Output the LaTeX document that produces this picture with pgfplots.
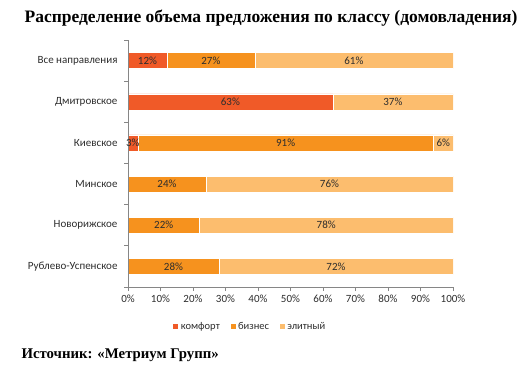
\documentclass[border=0pt]{standalone}
\usepackage{pgfplots}
\pgfplotsset{compat=1.18}
\usepackage{fontspec}
\setmainfont{Liberation Serif}
\newfontfamily\calfont{Carlito}
\definecolor{komf}{RGB}{240,90,40}
\definecolor{biz}{RGB}{246,146,30}
\definecolor{elit}{RGB}{252,189,110}
\definecolor{axgray}{RGB}{134,134,134}
\definecolor{txt}{RGB}{45,45,45}
\begin{document}
\begin{tikzpicture}[x=1pt,y=1pt]
\path[use as bounding box] (0,0) rectangle (527,382);
\node[font=\bfseries\fontsize{17.5}{20}\selectfont, anchor=center] at (271,364) {Распределение объема предложения по классу (домовладения)};
\node[font=\bfseries\fontsize{14.8}{17}\selectfont, anchor=west] at (18,27) {Источник: «Метриум Групп»};
\begin{axis}[
  at={(128pt,95pt)}, anchor=south west,
  scale only axis, width=325pt, height=247pt,
  xbar stacked, bar width=16pt,
  xmin=0, xmax=100, ymin=-0.5, ymax=5.5, y dir=reverse,
  axis x line*=bottom, axis y line*=left,
  axis line style={axgray, line width=0.7pt},
  axis on top,
  ytick={0,...,5},
  yticklabels={Все направления, Дмитровское, Киевское, Минское, Новорижское, Рублево-Успенское},
  minor ytick={-0.5,0.5,...,5.5},
  xtick={0,10,...,100},
  xticklabels={0\%,10\%,20\%,30\%,40\%,50\%,60\%,70\%,80\%,90\%,100\%},
  tick align=outside,
  major tick length=4pt, minor tick length=4pt,
  major y tick style={draw=none},
  minor y tick style={axgray, line width=0.7pt},
  x tick style={axgray, line width=0.7pt},
  yticklabel style={font=\calfont\fontsize{11}{13}\selectfont, text=txt, xshift=-3pt},
  xticklabel style={font=\calfont\fontsize{11}{13}\selectfont, text=txt},
  legend style={at={(0.375,-0.125)}, anchor=north, draw=none, legend columns=-1,
    font=\calfont\fontsize{10.5}{12}\selectfont, text=txt,
    /tikz/every even column/.append style={column sep=8pt}},
  legend image code/.code={\fill[#1] (0pt,-3pt) rectangle (6pt,3pt);},
]
\addplot[fill=komf, draw=white, line width=0.3pt] coordinates {(12,0) (63,1) (3,2) (0,3) (0,4) (0,5)};
\addplot[fill=biz, draw=white, line width=0.3pt] coordinates {(27,0) (0,1) (91,2) (24,3) (22,4) (28,5)};
\addplot[fill=elit, draw=white, line width=0.3pt] coordinates {(61,0) (37,1) (6,2) (76,3) (78,4) (72,5)};
\legend{комфорт, бизнес, элитный}
\end{axis}
\begin{axis}[
  at={(128pt,95pt)}, anchor=south west,
  scale only axis, width=325pt, height=247pt,
  xmin=0, xmax=100, ymin=-0.5, ymax=5.5, y dir=reverse,
  hide axis,
]
\addplot[only marks, mark=none, nodes near coords, point meta=explicit symbolic,
  every node near coord/.append style={anchor=center, font=\calfont\fontsize{11}{13}\selectfont, text=txt}]
  coordinates {(6,0)[12\%] (25.5,0)[27\%] (69.5,0)[61\%]
               (31.5,1)[63\%] (81.5,1)[37\%]
               (1.5,2)[3\%] (48.5,2)[91\%] (97,2)[6\%]
               (12,3)[24\%] (62,3)[76\%]
               (11,4)[22\%] (61,4)[78\%]
               (14,5)[28\%] (64,5)[72\%]};
\end{axis}
\end{tikzpicture}
\end{document}
